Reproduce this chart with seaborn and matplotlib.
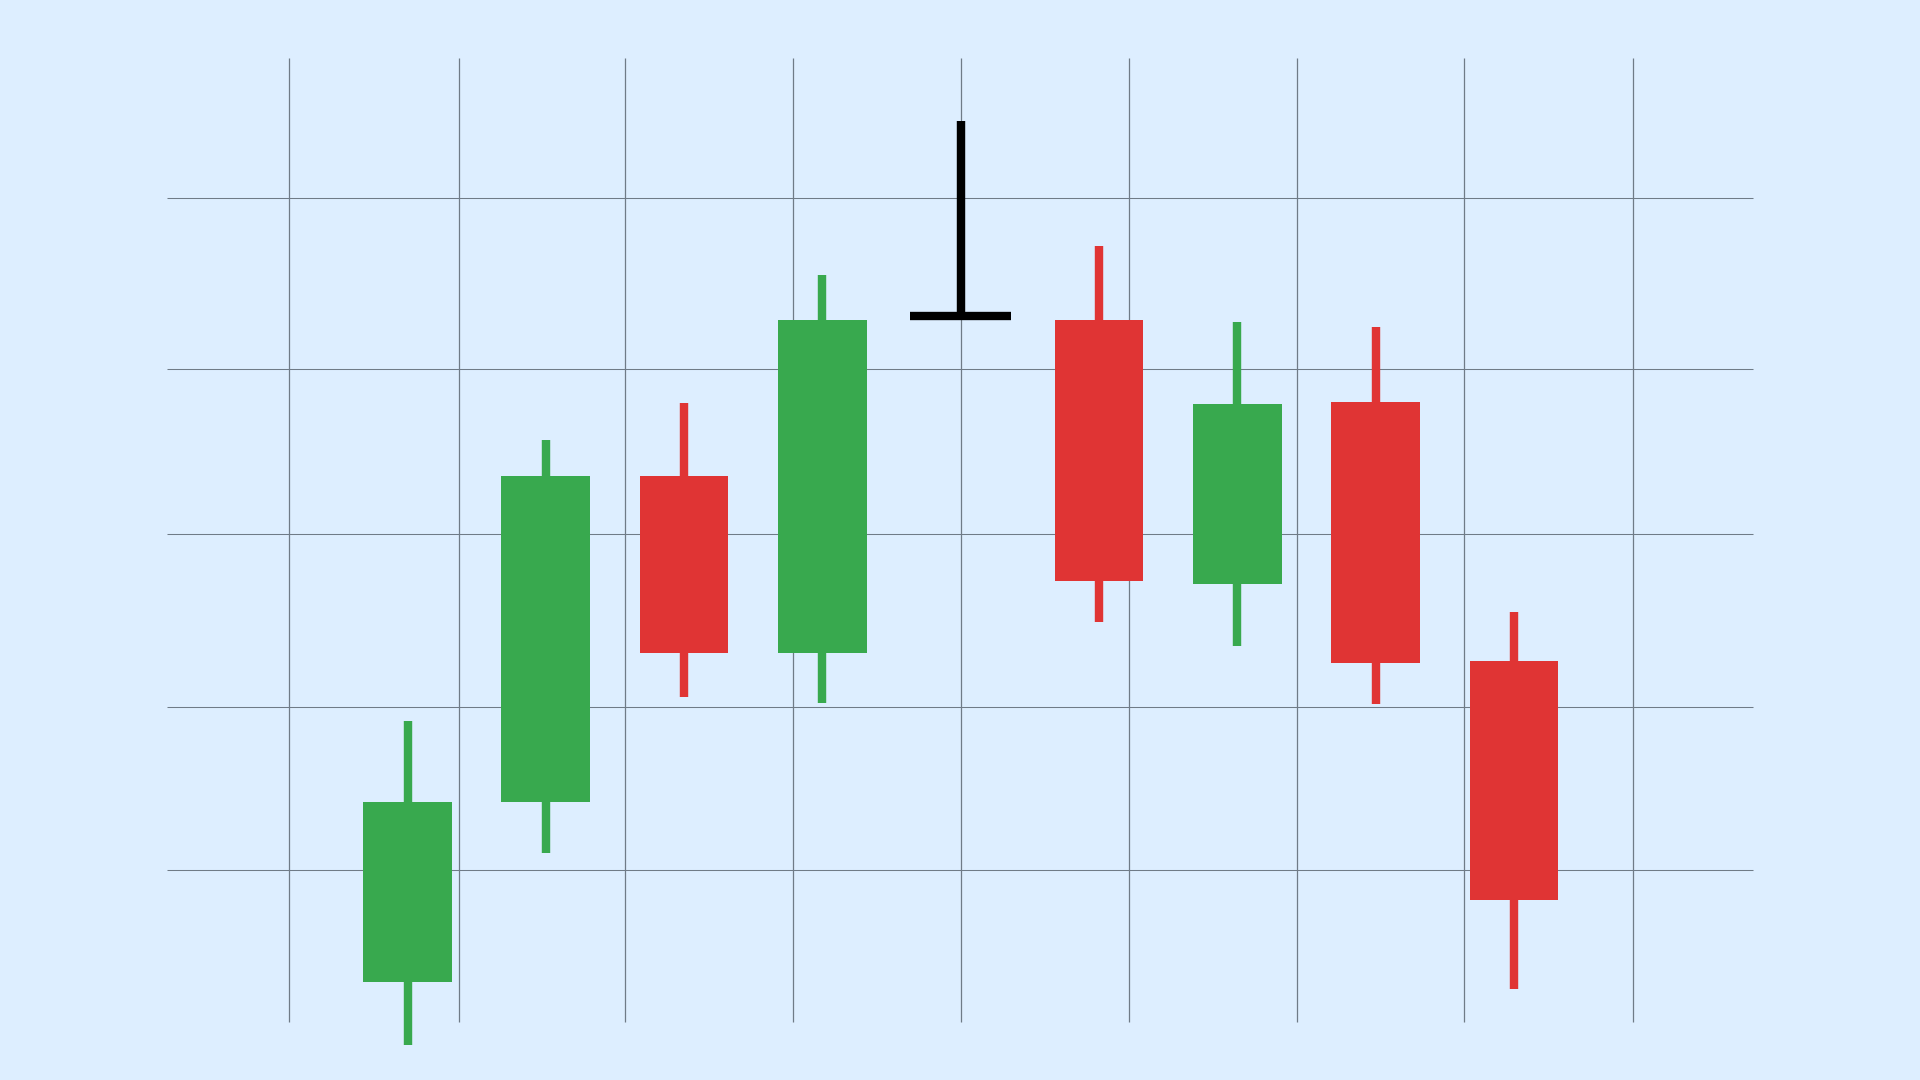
import numpy as np
import pandas as pd
import matplotlib
matplotlib.use("Agg")
import matplotlib.pyplot as plt
import seaborn as sns

# ---- data (price units) ----
sessions = list(range(9))
opens  = [9.8, 27.8, 60.4, 42.7, 76.4, 76.0, 49.6, 67.8, 41.9]
closes = [27.8, 60.4, 42.7, 76.0, 76.4, 49.9, 67.6, 41.7, 18.0]
highs  = [35.9, 64.0, 67.7, 80.5, 95.9, 83.4, 75.8, 75.3, 46.8]
lows   = [3.5, 22.7, 38.3, 37.7, 76.4, 45.8, 43.4, 37.6, 9.1]

# decorative grid levels
grid_y = [88.17, 71.10, 54.57, 37.27, 20.97]
grid_x = [-0.857, 0.374, 1.576, 2.790, 4.004, 5.219, 6.434, 7.642, 8.863]

df = pd.DataFrame({"session": sessions, "open": opens, "close": closes,
                   "high": highs, "low": lows})

BG = "#ddeeff"
GREEN = "#38a94e"
RED = "#e03434"
DOJI = "#000000"
GRID = "#6f7b87"

sns.set_theme(style="white", rc={"figure.facecolor": BG, "axes.facecolor": BG})

fig = plt.figure(figsize=(19.2, 10.8), dpi=100)
ax = fig.add_axes([0, 0, 1, 1])
ax.set_facecolor(BG)

# grid (limited extent like the reference)
ax.hlines(grid_y, -1.739, 9.729, colors=GRID, linewidth=0.75, zorder=1)
ax.vlines(grid_x, 5.83, 102.2, colors=GRID, linewidth=0.9, zorder=1)

def col(o, c):
    if abs(c - o) < 1e-9:
        return DOJI
    return GREEN if c > o else RED

df["color"] = [col(o, c) for o, c in zip(df["open"], df["close"])]

body_w = 0.641
wick_lw = 6.05   # points
doji_w = 0.73

# wicks
for _, r in df.iterrows():
    ax.vlines(r["session"], r["low"], r["high"], colors=r["color"],
              linewidth=wick_lw, capstyle="butt", zorder=3)

# bodies
body_bottom = np.minimum(df["open"], df["close"])
body_height = np.abs(df["close"] - df["open"])
ax.bar(df["session"], body_height, bottom=body_bottom, width=body_w,
       color=df["color"], linewidth=0, zorder=4)

# doji bars
dj = df[np.isclose(df["open"], df["close"])]
ax.hlines(dj["open"], dj["session"] - doji_w / 2, dj["session"] + doji_w / 2,
          colors=DOJI, linewidth=6.0, capstyle="butt", zorder=5)

ax.set_xlim(-2.9465, 10.936)
ax.set_ylim(0, 108)
ax.axis("off")

fig.savefig("out.png", dpi=100, facecolor=BG)
